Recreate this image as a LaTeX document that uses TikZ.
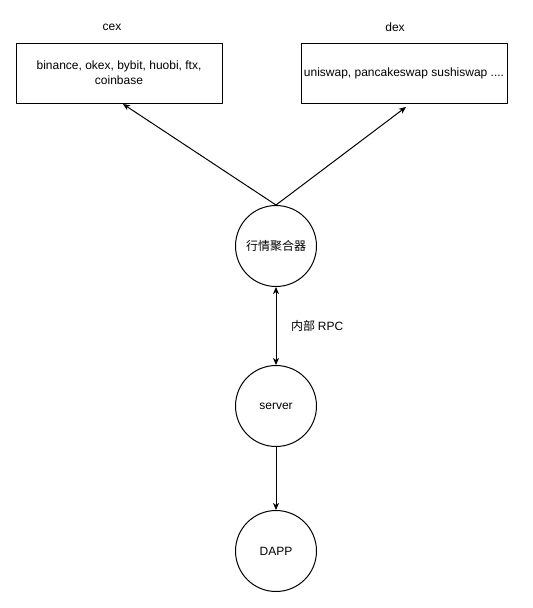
\documentclass[tikz,border=0pt]{standalone}
\usepackage{fontspec}
\setmainfont{Liberation Sans}
\newfontfamily\cjk{Noto Sans CJK SC}
\usepackage{tikz}
\usetikzlibrary{arrows.meta}
\usetikzlibrary{positioning}

\tikzset{
  boxnode/.style={draw,line width=1pt,minimum width=206pt,minimum height=60pt,align=center,inner sep=2pt},
  roundnode/.style={draw,circle,line width=1pt,minimum size=81pt,inner sep=0pt},
  plainlabel/.style={inner sep=0pt},
  link/.style={line width=1pt,->}
}

\begin{document}
\begin{tikzpicture}[line cap=round,line join=round,>={Stealth[length=7pt,width=6pt,inset=2pt]},x=1pt,y=-1pt,font=\fontsize{12}{15}\selectfont]
\useasboundingbox (0,0) rectangle (533,608);
% top row
\node[plainlabel] (cexlabel) at (112,27) {cex};
\node[plainlabel] (dexlabel) at (395,27) {dex};
\node[boxnode] (cex) at (119,73) {binance, okex, bybit, huobi, ftx,\\coinbase};
\node[boxnode] (dex) at (404,73) {uniswap, pancakeswap sushiswap ....};
% middle column
\node[roundnode] (agg) at (276,246) {\cjk 行情聚合器};
\node[roundnode] (server) at (276,406) {server};
\node[roundnode] (dapp) at (276,551) {DAPP};
\node[plainlabel,anchor=west] (rpc) at (291,326) {\cjk 内部\ \rmfamily RPC};
\coordinate (cexin) at (123,104);
\coordinate (dexin) at (406,107);
% connectors
\draw[link] (agg.north) -- (cexin);
\draw[link] (agg.north) -- (dexin);
\draw[link,<->] (agg) -- (server);
\draw[link] (server) -- (dapp);
\end{tikzpicture}
\end{document}
